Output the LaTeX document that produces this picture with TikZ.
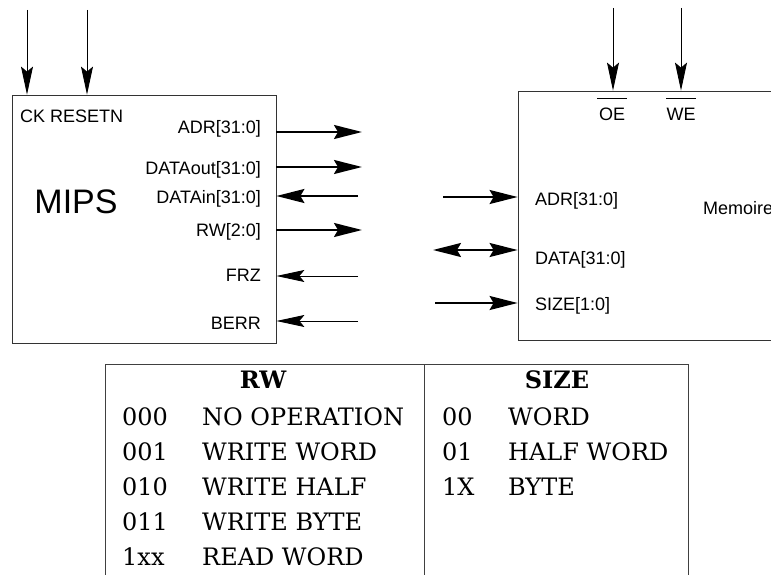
\documentclass[tikz,border=0pt]{standalone}
\usepackage{fontspec}
\setmainfont{Liberation Sans}
\newfontfamily\tabfont{DejaVu Serif}
\usetikzlibrary{arrows.meta}
\begin{document}
\begin{tikzpicture}[x=1pt,y=-1pt,
  box/.style={draw=black!80, line width=0.8pt, rectangle, inner sep=0pt},
  lbl/.style={font=\fontsize{18}{21}\selectfont, inner sep=0pt},
  big/.style={font=\fontsize{34}{38}\selectfont, inner sep=0pt},
  bus/.style={line width=2pt, -{Stealth[length=28pt,width=14pt,inset=4pt]}},
  busboth/.style={line width=2pt, {Stealth[length=28pt,width=14pt,inset=4pt]}-{Stealth[length=28pt,width=14pt,inset=4pt]}},
  sig/.style={line width=0.9pt, -{Stealth[length=28pt,width=12pt,inset=5pt]}},
  tab/.style={font=\tabfont\fontsize{24}{28}\selectfont, inner sep=0pt, anchor=base west},
  tabh/.style={font=\tabfont\bfseries\fontsize{24}{28}\selectfont, inner sep=0pt, anchor=base},
  rule/.style={draw=black!75, line width=0.8pt}
]
\clip (0,0) rectangle (771,575);

% ---------- MIPS ----------
\node[box, minimum width=264pt, minimum height=248pt] (mips) at (144,219) {};
\node[big, anchor=base] (mipsname) at (76,213) {MIPS};
\node[lbl, anchor=base west] (ckres) at (20,123) {CK\ RESETN};
\node[lbl, anchor=base east] (ladr) at (261,134) {ADR[31:0]};
\node[lbl, anchor=base east] (ldout) at (261,175) {DATAout[31:0]};
\node[lbl, anchor=base east] (ldin) at (261,203) {DATAin[31:0]};
\node[lbl, anchor=base east] (lrw) at (261,236) {RW[2:0]};
\node[lbl, anchor=base east] (lfrz) at (261,281) {FRZ};
\node[lbl, anchor=base east] (lberr) at (261,329) {BERR};

\coordinate (ckS) at (27,10);
\coordinate (rsS) at (87,10);
\draw[sig] (ckS) -- (ckS |- mips.north);
\draw[sig] (rsS) -- (rsS |- mips.north);

\coordinate (adrE) at (362,132);
\coordinate (doutE) at (362,167);
\coordinate (dinS) at (358,196);
\coordinate (rwE) at (362,230);
\coordinate (frzS) at (358,276);
\coordinate (berrS) at (358,321);
\draw[bus] (adrE -| mips.east) -- (adrE);
\draw[bus] (doutE -| mips.east) -- (doutE);
\draw[bus] (dinS) -- (dinS -| mips.east);
\draw[bus] (rwE -| mips.east) -- (rwE);
\draw[sig] (frzS) -- (frzS -| mips.east);
\draw[sig] (berrS) -- (berrS -| mips.east);

% ---------- Memoire ----------
\node[box, minimum width=290pt, minimum height=249pt] (mem) at (663,215.5) {};
\node[lbl, anchor=base] (loe) at (612,121) {OE};
\node[lbl, anchor=base] (lwe) at (681,121) {WE};
\draw[line width=0.8pt] (597,98) -- (627,98);
\draw[line width=0.8pt] (666,98) -- (696,98);
\node[lbl, anchor=base west] (madr) at (535,205) {ADR[31:0]};
\node[lbl, anchor=base west] (mdata) at (535,264) {DATA[31:0]};
\node[lbl, anchor=base west] (msize) at (535,310) {SIZE[1:0]};
\node[lbl, anchor=base west] (mname) at (703,214) {Memoire};

\coordinate (oeS) at (613,8);
\coordinate (weS) at (681,8);
\draw[sig] (oeS) -- (oeS |- mem.north);
\draw[sig] (weS) -- (weS |- mem.north);

\coordinate (madrS) at (443,197);
\coordinate (mdataS) at (433,250);
\coordinate (msizeS) at (435,303);
\draw[bus] (madrS) -- (madrS -| mem.west);
\draw[busboth] (mdataS) -- (mdataS -| mem.west);
\draw[bus] (msizeS) -- (msizeS -| mem.west);

% ---------- Table ----------
\draw[rule] (105,600) -- (105,364) -- (688,364) -- (688,600);
\draw[rule] (424,364) -- (424,600);
\node[tabh] (hrw) at (263,388) {RW};
\node[tabh] (hsize) at (557,388) {SIZE};

\node[tab] (c1) at (122,425) {000};
\node[tab] (d1) at (202,425) {NO OPERATION};
\node[tab] (c2) at (122,460) {001};
\node[tab] (d2) at (202,460) {WRITE WORD};
\node[tab] (c3) at (122,495) {010};
\node[tab] (d3) at (202,495) {WRITE HALF};
\node[tab] (c4) at (122,530) {011};
\node[tab] (d4) at (202,530) {WRITE BYTE};
\node[tab] (c5) at (122,565) {1xx};
\node[tab] (d5) at (202,565) {READ WORD};

\node[tab] (s1) at (442,425) {00};
\node[tab] (t1) at (508,425) {WORD};
\node[tab] (s2) at (442,460) {01};
\node[tab] (t2) at (508,460) {HALF WORD};
\node[tab] (s3) at (442,495) {1X};
\node[tab] (t3) at (508,495) {BYTE};
\end{tikzpicture}
\end{document}
